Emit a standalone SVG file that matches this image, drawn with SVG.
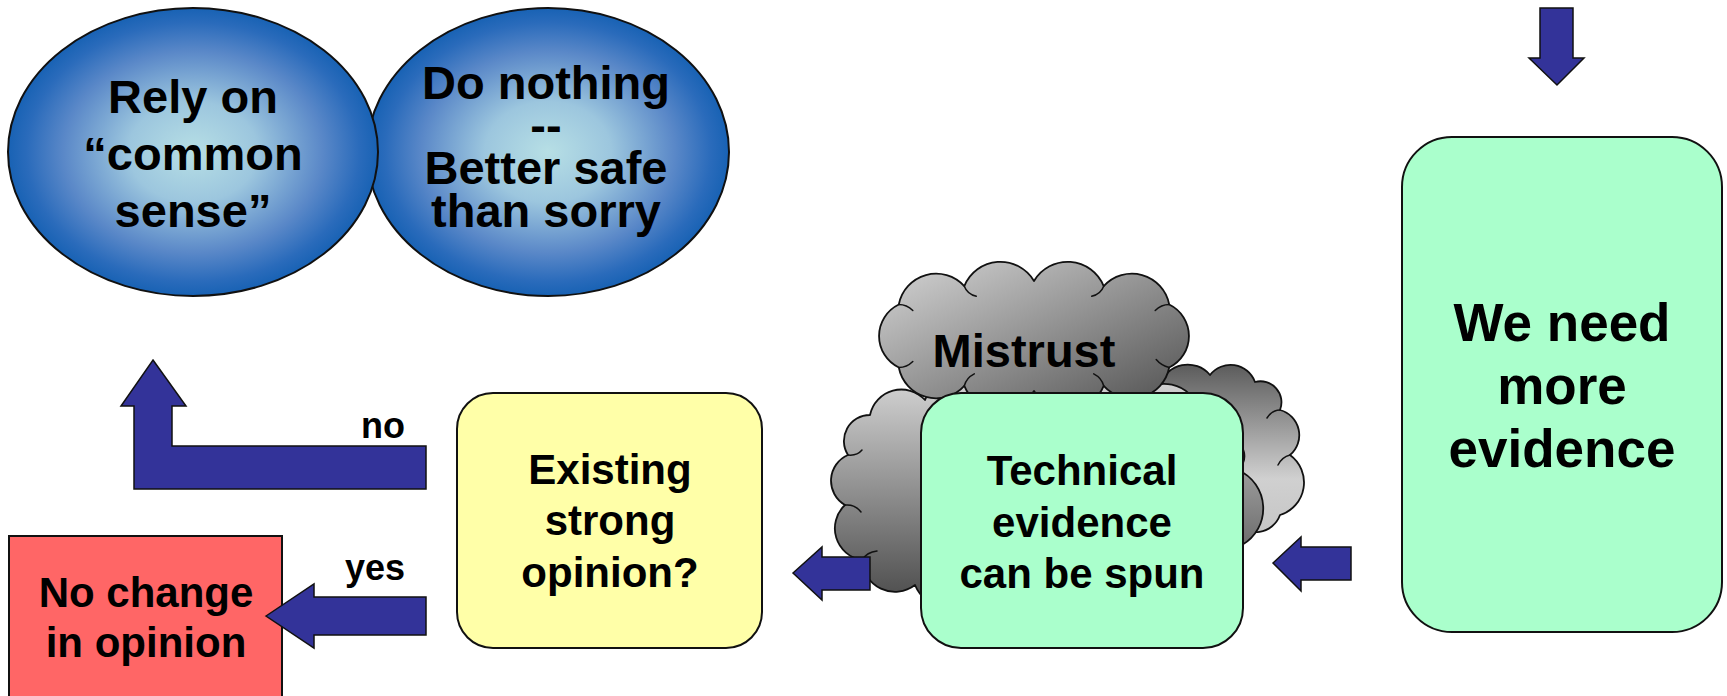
<svg xmlns="http://www.w3.org/2000/svg" width="1727" height="696" viewBox="0 0 1727 696">
  <style>
    .lbl { font-family: "Liberation Sans", Arial, Helvetica, sans-serif; font-weight: bold; text-anchor: middle; fill: #000; }
    .edge { stroke: #111; stroke-width: 2; }
    .arrow { fill: #333399; stroke: #111; stroke-width: 1.5; stroke-linejoin: miter; }
    .crease { fill: none; stroke: #111; stroke-width: 1.5; stroke-linecap: round; }
    .cloud { stroke: #111; stroke-width: 1.8; stroke-linejoin: round; }
  </style>
  <defs>
    <radialGradient id="blueBall" cx="0.5" cy="0.5" r="0.5">
      <stop offset="0" stop-color="#b7dfe5"/>
      <stop offset="0.35" stop-color="#9cc6de"/>
      <stop offset="0.7" stop-color="#5a88c8"/>
      <stop offset="0.9" stop-color="#2a6bbb"/>
      <stop offset="1" stop-color="#1862b4"/>
    </radialGradient>
    <linearGradient id="cloudTop" x1="0" y1="0" x2="1" y2="1">
      <stop offset="0" stop-color="#d6d6d6"/>
      <stop offset="1" stop-color="#4e4e4e"/>
    </linearGradient>
    <linearGradient id="cloudLeft" gradientUnits="userSpaceOnUse" x1="0" y1="385" x2="0" y2="605">
      <stop offset="0" stop-color="#d0d0d0"/>
      <stop offset="1" stop-color="#4a4a4a"/>
    </linearGradient>
    <linearGradient id="cloudRight" gradientUnits="userSpaceOnUse" x1="0" y1="360" x2="0" y2="530">
      <stop offset="0" stop-color="#575757"/>
      <stop offset="0.7" stop-color="#d0d0d0"/>
      <stop offset="1" stop-color="#c6c6c6"/>
    </linearGradient>
  </defs>

  <!-- outcome bubbles -->
  <g id="do-nothing">
    <ellipse cx="548" cy="152" rx="181" ry="144" fill="url(#blueBall)" class="edge"/>
    <text class="lbl" font-size="47" x="546" y="99">Do nothing</text>
    <text class="lbl" font-size="47" x="546" y="141">--</text>
    <text class="lbl" font-size="47" x="546" y="184">Better safe</text>
    <text class="lbl" font-size="47" x="546" y="227">than sorry</text>
  </g>
  <g id="rely-common-sense">
    <ellipse cx="193" cy="152" rx="185" ry="144" fill="url(#blueBall)" class="edge"/>
    <text class="lbl" font-size="47" x="193" y="113">Rely on</text>
    <text class="lbl" font-size="47" x="193" y="170">“common</text>
    <text class="lbl" font-size="47" x="193" y="227">sense”</text>
  </g>

  <!-- decision -->
  <g id="no-change">
    <rect x="9" y="536" width="273" height="175" fill="#ff6666" class="edge"/>
    <text class="lbl" font-size="42" x="146" y="607">No change</text>
    <text class="lbl" font-size="42" x="146" y="657">in opinion</text>
  </g>
  <g id="existing-opinion">
    <rect x="457" y="393" width="305" height="255" rx="36" fill="#ffffa8" class="edge"/>
    <text class="lbl" font-size="42" x="610" y="484">Existing</text>
    <text class="lbl" font-size="42" x="610" y="535">strong</text>
    <text class="lbl" font-size="42" x="610" y="587">opinion?</text>
  </g>

  <!-- mistrust clouds -->
  <g id="mistrust">
    <path class="cloud" fill="url(#cloudRight)" d="M1290 455 A34 34 0 0 1 1280 515 A26 26 0 0 1 1235 522 A31 31 0 0 1 1180 520 A29 29 0 0 1 1130 505 A28 28 0 0 1 1110 460 A29 29 0 0 1 1120 410 A26 26 0 0 1 1160 385 A29 29 0 0 1 1210 375 A26 26 0 0 1 1255 382 A21 21 0 0 1 1280 410 A26 26 0 0 1 1290 455 Z"/>
    <path class="crease" d="M1290 455 q-8 2 -12 10"/>
    <path class="crease" d="M1280 410 q-8 0 -13 8"/>
    <path class="cloud" fill="url(#cloudLeft)" d="M1238 470 A42 42 0 0 1 1242 545 A32 32 0 0 1 1195 577 A40 40 0 0 1 1125 588 A41 41 0 0 1 1052 592 A40 40 0 0 1 980 592 A37 37 0 0 1 915 585 A33 33 0 0 1 862 560 A32 32 0 0 1 845 505 A28 28 0 0 1 848 455 A26 26 0 0 1 870 415 A32 32 0 0 1 925 400 A39 39 0 0 1 995 395 A39 39 0 0 1 1065 395 A39 39 0 0 1 1135 398 A37 37 0 0 1 1200 412 A23 23 0 0 1 1232 438 A19 19 0 0 1 1238 470 Z"/>
    <path class="crease" d="M845 505 q10 -1 16 7"/>
    <path class="crease" d="M848 455 q9 1 14 -5"/>
    <path class="crease" d="M862 560 q5 -8 15 -9"/>
    <path class="cloud" fill="url(#cloudTop)" d="M1169.2 367.5 A38 38 0 0 1 1103.7 385.8 A39 39 0 0 1 1034 391 A39 39 0 0 1 964.3 385.8 A38 38 0 0 1 898.8 367.5 A35 35 0 0 1 898.8 304.5 A38 38 0 0 1 964.3 286.2 A39 39 0 0 1 1034 281 A39 39 0 0 1 1103.7 286.2 A38 38 0 0 1 1169.2 304.5 A35 35 0 0 1 1169.2 367.5 Z"/>
    <path class="crease" d="M1103.7 286.2 q-3 8 -12 10"/>
    <path class="crease" d="M964.3 286.2 q3 8 12 10"/>
    <path class="crease" d="M898.8 304.5 q8 0 14 6"/>
    <path class="crease" d="M898.8 367.5 q8 0 14 -6"/>
    <path class="crease" d="M1169.2 304.5 q-8 0 -14 6"/>
    <path class="crease" d="M1169.2 367.5 q-8 -2 -13 -8"/>
    <path class="crease" d="M1103.7 385.8 q-2 -8 -10 -12"/>
    <path class="crease" d="M964.3 385.8 q2 -8 10 -12"/>
    <text class="lbl" font-size="47" x="1024" y="367">Mistrust</text>
  </g>

  <g id="technical-evidence">
    <rect x="921" y="393" width="322" height="255" rx="40" fill="#aaffcc" class="edge"/>
    <text class="lbl" font-size="42" x="1082" y="485">Technical</text>
    <text class="lbl" font-size="42" x="1082" y="537">evidence</text>
    <text class="lbl" font-size="42" x="1082" y="588">can be spun</text>
  </g>

  <g id="more-evidence">
    <rect x="1402" y="137" width="320" height="495" rx="50" fill="#aaffcc" class="edge"/>
    <text class="lbl" font-size="53" x="1562" y="341">We need</text>
    <text class="lbl" font-size="53" x="1562" y="404">more</text>
    <text class="lbl" font-size="53" x="1562" y="467">evidence</text>
  </g>

  <!-- block arrows between steps -->
  <g id="connectors">
    <polygon class="arrow" points="1540,8 1573,8 1573,58 1584,58 1557,85 1529,58 1540,58"/>
    <polygon class="arrow" points="1273,563 1301,537 1301,547 1351,547 1351,580 1301,580 1301,591"/>
    <polygon class="arrow" points="793,573 822,547 822,557 870,557 870,590 822,590 822,600"/>
    <polygon class="arrow" points="153,360 186,406 172,406 172,446 426,446 426,489 134,489 134,406 121,406"/>
    <polygon class="arrow" points="266,616 314,584 314,597 426,597 426,635 314,635 314,648"/>
    <text class="lbl" font-size="36" x="405" y="438" text-anchor="end" style="text-anchor:end">no</text>
    <text class="lbl" font-size="36" x="405" y="580" text-anchor="end" style="text-anchor:end">yes</text>
  </g>
</svg>
